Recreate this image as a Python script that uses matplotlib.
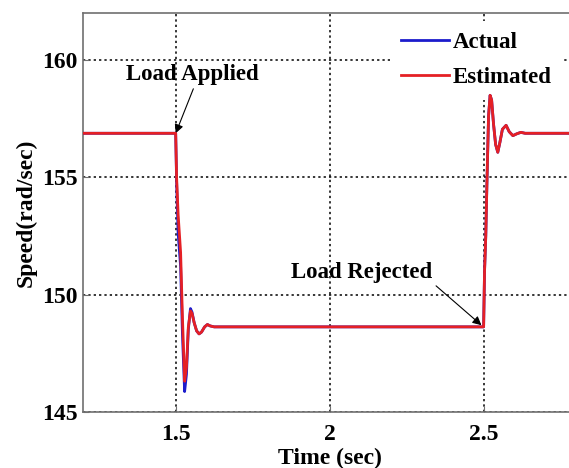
import matplotlib
matplotlib.use("Agg")
import matplotlib.pyplot as plt

plt.rcParams['font.family'] = ['Liberation Serif', 'DejaVu Serif']
plt.rcParams['font.weight'] = 'bold'

# Data
time = [1.2, 1.5, 1.503, 1.508, 1.516, 1.522, 1.529, 1.535, 1.541, 1.548, 1.553,
        1.560, 1.568, 1.576, 1.584, 1.594, 1.603, 1.612, 1.625,
        2.5, 2.503, 2.507, 2.511, 2.516, 2.521, 2.526, 2.532, 2.539, 2.546, 2.553,
        2.561, 2.573, 2.583, 2.595, 2.608, 2.621, 2.635, 2.8]
estimated = [156.88, 156.88, 155.0, 153.4, 151.8, 149.0, 146.3, 146.9, 148.6, 149.3, 149.2,
             148.8, 148.45, 148.32, 148.4, 148.62, 148.72, 148.66, 148.62,
             148.62, 151.0, 152.5, 154.9, 157.6, 158.5, 158.3, 157.3, 156.4, 156.07, 156.5,
             157.05, 157.22, 156.95, 156.78, 156.86, 156.92, 156.88, 156.88]
actual = [156.88, 156.88, 154.8, 152.6, 151.2, 148.3, 145.86, 146.6, 148.5, 149.4, 149.25,
          148.8, 148.45, 148.32, 148.4, 148.62, 148.72, 148.66, 148.62,
          148.62, 151.0, 152.5, 154.9, 157.6, 158.5, 158.3, 157.3, 156.4, 156.07, 156.5,
          157.05, 157.22, 156.95, 156.78, 156.86, 156.92, 156.88, 156.88]

xticks = [1.5, 2, 2.5]
xticklabels = ['1.5', '2', '2.5']
yticks = [145, 150, 155, 160]

W, H = 569, 468
fig = plt.figure(figsize=(W / 100, H / 100), dpi=100)
left, right, top, bottom = 83.3, 576, 13.3, 411.7
ax = fig.add_axes([left / W, 1 - bottom / H, (right - left) / W, (bottom - top) / H])

ax.plot(time, actual, color='#1c1ccc', lw=2.0, label='Actual', zorder=6)
ax.plot(time, estimated, color='#e52025', lw=2.0, label='Estimated', zorder=7)

ax.set_xlim(1.2, 2.8)
ax.set_ylim(145, 162)
ax.set_xticks(xticks)
ax.set_xticklabels(xticklabels)
ax.set_yticks(yticks)
ax.grid(True, color='black', linestyle=(0, (1.5, 2.0)), linewidth=1.1)
ax.tick_params(direction='in', length=4, labelsize=17, color='#707070')
ax.tick_params(axis='x', pad=9)
ax.tick_params(axis='y', pad=4)
for lab in ax.get_xticklabels() + ax.get_yticklabels():
    lab.set_fontweight('bold')
for s in ax.spines.values():
    s.set_color('#707070')
    s.set_linewidth(1.2)

ax.set_xlabel('Time (sec)', fontsize=17, fontweight='bold', labelpad=2)
ax.set_ylabel('Speed(rad/sec)', fontsize=17, fontweight='bold', labelpad=4)

arrow = dict(arrowstyle='-|>', color='black', lw=0.8, mutation_scale=13,
             shrinkA=1, shrinkB=0)
ax.annotate('Load Applied', xy=(1.5, 156.88), xytext=(1.554, 159.4),
            ha='center', va='center', fontsize=16.5, fontweight='bold',
            arrowprops=dict(arrow, relpos=(0.52, 0)))
ax.annotate('Load Rejected', xy=(2.493, 148.69), xytext=(2.104, 150.96),
            ha='center', va='center', fontsize=16.5, fontweight='bold',
            arrowprops=dict(arrow, relpos=(1.0, 0)))

leg = ax.legend(loc='upper left', bbox_to_anchor=(389.5 / W, 1 - 20.5 / H),
                bbox_transform=fig.transFigure, frameon=True, fancybox=False,
                facecolor='white', edgecolor='white', framealpha=1.0,
                prop={'size': 16.5, 'weight': 'bold'}, handlelength=2.1,
                handletextpad=0.15, labelspacing=0.62, borderpad=0.5, borderaxespad=0)
leg.get_frame().set_linewidth(0)
leg.set_zorder(5)

fig.savefig('out.png', dpi=100)
